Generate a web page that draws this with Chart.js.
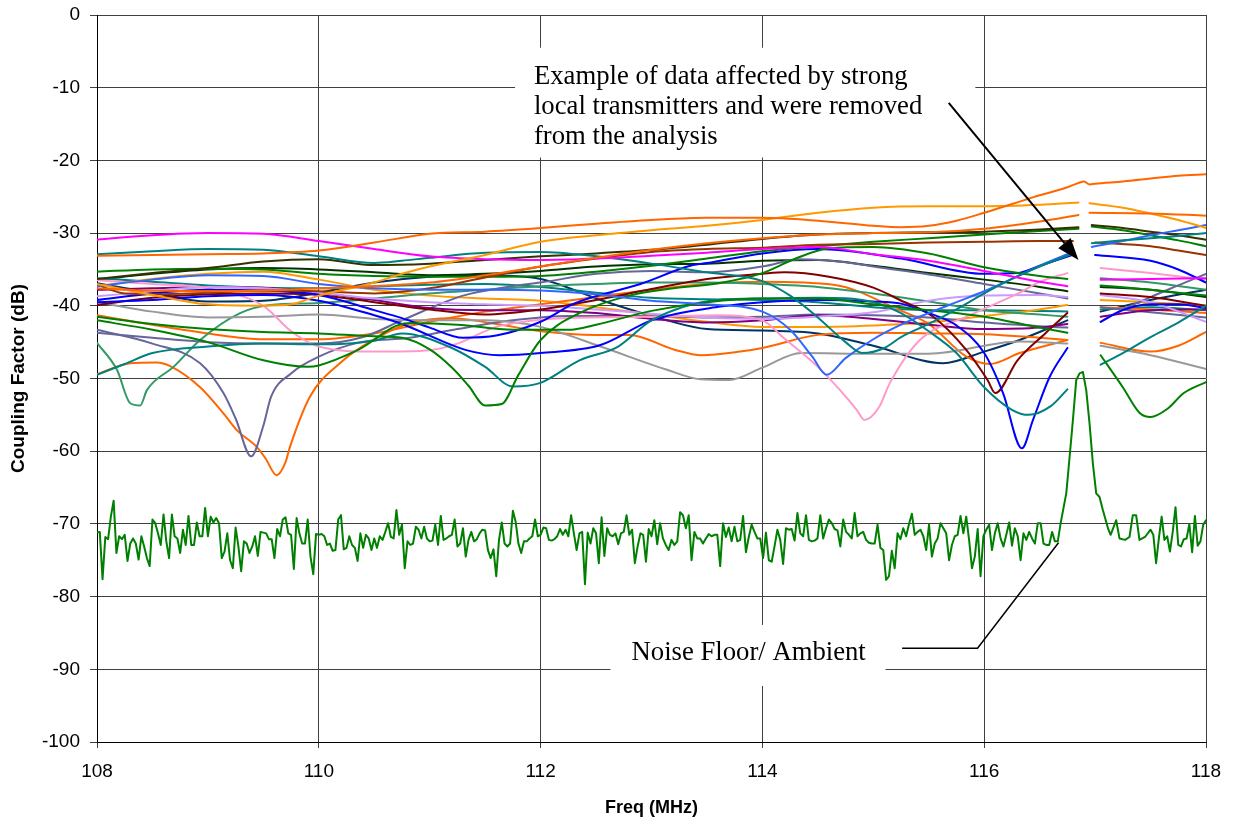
<!DOCTYPE html>
<html lang="en">
<head>
<meta charset="UTF-8">
<title>Coupling Factor vs Freq</title>
<script src="https://cdn.jsdelivr.net/npm/chart.js@4.4.1/dist/chart.umd.min.js"></script>
<style>
  html, body { margin: 0; padding: 0; background: #fff; }
</style>
</head>
<body>
<canvas id="chart" width="1234" height="823"></canvas>
<script>
// x ticks (MHz) and y range (dB)
const freqTicks = [108, 110, 112, 114, 116, 118];
const dbMin = -100, dbMax = 0, dbStep = 10;

// each curve: [freq MHz, coupling dB]; null = data removed near 116.9 MHz
const GAP = [116.9, null];
const magenta = [[108,-30.9],[108.5,-30.3],[109,-30.0],[109.5,-30.1],[110,-31.1],[110.5,-32.2],[111,-33.2],[111.5,-33.6],[112,-33.7],[112.5,-33.5],[113,-33.1],[113.5,-32.7],[114,-32.2],[114.5,-31.9],[115,-32.9],[115.5,-33.8],[116,-35.2],[116.5,-36.7],[116.75,-37.3],GAP,[117.05,-36.4],[117.5,-36.3],[118,-36.2]];
const teal1 = [[108,-32.9],[108.5,-32.5],[109,-32.2],[109.5,-32.3],[110,-33.2],[110.5,-34.1],[110.75,-33.8],[111,-33.4],[111.5,-32.7],[112,-32.6],[112.5,-33.2],[113,-34.2],[113.5,-35.4],[114,-36.6],[114.25,-38.6],[114.5,-41.6],[114.75,-45],[114.9,-46.5],[115.1,-45.8],[115.25,-44.3],[115.5,-42.5],[115.75,-40.5],[116,-38.3],[116.25,-36.3],[116.5,-34.6],[116.8,-32.8],GAP,[116.97,-31.4],[117.25,-31],[117.5,-30.7],[117.75,-30.4],[118,-30]];
const blueLight = [[108,-37.3],[108.5,-36.4],[109,-35.8],[109.5,-35.9],[110,-37],[110.5,-37.6],[111,-37.8],[111.5,-37.8],[112,-37.9],[112.5,-38.4],[113,-39.3],[113.5,-39.8],[114,-40.8],[114.25,-43.3],[114.45,-47],[114.58,-49.5],[114.75,-47.2],[115,-44.6],[115.25,-42.6],[115.5,-41],[115.75,-39.5],[116,-38],[116.25,-36.3],[116.5,-34.5],[116.8,-32.6],GAP,[116.97,-31.9],[117.25,-31.1],[117.5,-30.3],[117.75,-29.6],[118,-28.9]];
const amber1 = [[108,-37],[108.5,-38.5],[109,-39.8],[109.5,-40],[109.75,-39.8],[110,-38.6],[110.5,-36.8],[110.75,-35.6],[111,-34.6],[111.5,-33],[112,-31.2],[112.5,-30.3],[113,-29.6],[113.5,-29],[114,-28.2],[114.5,-27.2],[115,-26.5],[115.5,-26.3],[116,-26.3],[116.5,-26.1],[116.85,-25.8],GAP,[116.95,-25.9],[117.25,-26.5],[117.5,-27.3],[117.75,-28.2],[118,-29.3]];
const orangeTop = [[108,-33.1],[108.5,-33],[109,-32.9],[109.5,-32.8],[110,-32.4],[110.5,-31.3],[111,-30.1],[111.5,-29.8],[112,-29.3],[112.5,-28.7],[113,-28.2],[113.5,-27.9],[114,-27.9],[114.5,-28.3],[115,-29],[115.25,-29.2],[115.5,-29],[115.75,-28.3],[116,-27.2],[116.25,-26],[116.5,-24.8],[116.75,-23.7],[116.85,-23.1],[116.9,-22.9],[116.95,-23.3],[117,-23.2],[117.25,-22.9],[117.5,-22.5],[117.75,-22.1],[118,-21.9]];
const orange2 = [[108,-37.6],[108.5,-37.9],[109,-38],[109.5,-37.9],[110,-37.6],[110.5,-37.3],[111,-36.8],[111.5,-35.8],[112,-34.6],[112.5,-33.4],[113,-32.3],[113.5,-31.4],[114,-30.7],[114.5,-30.2],[115,-30],[115.5,-29.9],[116,-29.4],[116.5,-28.4],[116.85,-27.5],GAP,[116.95,-27.2],[117.5,-27.3],[118,-27.6]];
const olive = [[108,-36.3],[108.5,-35.5],[109,-34.8],[109.5,-33.9],[110,-33.6],[110.5,-34.4],[111,-34.2],[111.5,-33.7],[112,-33.2],[112.5,-32.8],[113,-32.3],[113.5,-31.6],[114,-30.8],[114.5,-30.2],[115,-30],[115.5,-29.9],[116,-29.8],[116.5,-29.5],[116.85,-29.2],GAP,[116.97,-28.9],[117.25,-29.3],[117.5,-29.8],[117.75,-30.3],[118,-30.9]];
const brown = [[108,-37.1],[108.25,-38.3],[108.5,-38.4],[109,-38.2],[109.5,-37.9],[110,-38],[110.5,-38.3],[111,-37.6],[111.5,-36.1],[112,-34.6],[112.5,-33.5],[113,-32.6],[113.5,-32.2],[114,-32],[114.5,-31.6],[115,-31.5],[115.5,-31.3],[116,-31.2],[116.5,-31.1],[116.8,-31.1],GAP,[117,-31.3],[117.5,-31.8],[117.75,-32.4],[118,-33]];
const greenTop = [[108,-35.3],[108.5,-35],[109,-34.9],[109.5,-35],[110,-35.6],[110.5,-35.9],[111,-36],[111.5,-36],[112,-35.9],[112.5,-35.3],[113,-34.5],[113.5,-33.5],[114,-32.5],[114.5,-31.8],[115,-31.2],[115.5,-30.7],[116,-30.2],[116.5,-29.7],[116.85,-29.4],GAP,[116.97,-29.1],[117.25,-29.6],[117.5,-30.3],[117.75,-31],[118,-31.8]];
const greenDip1 = [[108,-41.5],[108.5,-42.5],[109,-43.2],[109.5,-43.6],[110,-43.8],[110.5,-44.2],[110.75,-44.4],[111,-46],[111.2,-48.5],[111.35,-51],[111.5,-53.7],[111.65,-53.5],[111.8,-49.5],[112,-44.7],[112.35,-41],[112.8,-38.6],[113.2,-37.6],[113.6,-36.9],[114,-35.5],[114.3,-33.5],[114.6,-32.1],[115,-31.9],[115.5,-32.8],[116,-34.7],[116.5,-35.9],[116.75,-36.3],GAP,[117.05,-37.2],[117.5,-37.8],[118,-38.6]];
const greenDip2 = [[108,-42],[108.5,-43.3],[109,-45],[109.5,-47.5],[109.9,-48.4],[110,-48.2],[110.35,-46.1],[110.8,-42.4],[111.25,-42.6],[111.75,-43.3],[112.25,-43.3],[112.5,-42.6],[113,-40.7],[113.5,-39.5],[114,-39],[114.5,-39],[115,-39.8],[115.5,-40.6],[116,-41.5],[116.5,-43],[116.75,-43.7],GAP,[117.05,-46.8],[117.25,-51.2],[117.4,-54.7],[117.5,-55.3],[117.65,-54.2],[117.8,-52],[118,-50.5]];
const teal2 = [[108,-49.5],[108.25,-48],[108.5,-46.5],[109,-45.6],[109.5,-45.2],[110,-45.3],[110.5,-44.8],[110.75,-43.8],[111.2,-45.8],[111.5,-48.4],[111.75,-51.1],[112,-50.6],[112.35,-47.5],[112.7,-45.6],[113,-42],[113.6,-39.2],[114,-39],[114.5,-38.9],[115,-39.5],[115.25,-41],[115.5,-43.5],[115.75,-46.5],[116,-51.2],[116.25,-54.3],[116.4,-55],[116.6,-53.8],[116.75,-51.5],GAP,[117.05,-48.1],[117.25,-46.5],[117.5,-44.3],[117.75,-42.3],[118,-40]];
const blue1 = [[108,-39.2],[108.5,-38.3],[109,-37.8],[109.5,-37.9],[110,-38.5],[110.5,-40.6],[110.75,-41.7],[111,-43],[111.3,-44.4],[111.6,-44.1],[112,-42.2],[112.3,-39.7],[112.9,-37],[113.35,-34.5],[113.55,-34],[114,-32.8],[114.5,-32.2],[115.25,-33.5],[116,-35.6],[116.3,-35.5],[116.5,-34.5],[116.8,-33],GAP,[117,-33],[117.5,-33.8],[117.75,-35],[118,-36.8]];
const blue2 = [[108,-39.5],[108.5,-39.2],[109,-38.7],[109.5,-38.5],[110,-39.3],[110.5,-41.3],[110.75,-42.5],[111.33,-46.1],[111.63,-46.8],[112,-46.5],[112.54,-45.4],[113,-42],[113.62,-40.1],[114,-39.5],[114.5,-39.2],[115,-39.4],[115.25,-39.7],[115.5,-41],[115.75,-42.7],[116,-46.5],[116.17,-52],[116.34,-59.6],[116.44,-55.7],[116.59,-49.8],[116.75,-45.8],GAP,[117.05,-42.2],[117.25,-40.6],[117.5,-39.8],[117.75,-39.8],[118,-40.3]];
const maroon = [[108,-39.9],[108.5,-38.9],[109,-38.4],[109.5,-38.3],[110,-38.5],[110.5,-39.5],[111,-40.5],[111.5,-41.2],[112,-40.5],[112.5,-39.2],[113,-37.7],[113.5,-36.3],[114,-35.6],[114.2,-35.4],[114.6,-36],[115,-37.5],[115.24,-39.2],[115.54,-41.5],[115.84,-46.1],[116.03,-50.2],[116.1,-52],[116.3,-47.5],[116.55,-43.8],[116.75,-41],GAP,[117.05,-38.3],[117.5,-38.8],[118,-40]];
const pink = [[108,-36.5],[108.5,-37],[109,-37.6],[109.5,-40],[109.75,-43.5],[110,-45.6],[110.5,-46.3],[111,-46.1],[111.25,-45.2],[111.6,-42.9],[112.2,-41.7],[113,-41.5],[113.6,-41.3],[114,-42],[114.19,-44.4],[114.5,-48.4],[114.7,-51.6],[114.85,-54.3],[114.92,-55.7],[115.05,-54],[115.15,-50.6],[115.42,-44.7],[115.84,-41.5],[116.32,-38.2],[116.5,-36.7],[116.75,-35.5],GAP,[117.05,-34.8],[117.5,-35.5],[118,-36.4]];
const gray = [[108,-39.5],[108.5,-40.8],[109,-41.6],[109.5,-41.5],[110,-41.2],[110.5,-41.8],[111,-42],[111.5,-42],[112,-42.9],[112.54,-45.6],[113.14,-48.8],[113.44,-50.1],[113.7,-50.2],[114,-48.5],[114.35,-46.5],[115,-46.6],[115.5,-46.6],[116.32,-44.9],[116.75,-45.2],GAP,[117.05,-45.5],[117.5,-46.8],[118,-48.7]];
const lavender = [[108,-38.7],[108.5,-38],[109,-37.4],[109.5,-37.6],[110,-38.2],[110.5,-39],[111,-39.5],[111.5,-39.8],[112,-40],[112.5,-40.5],[113,-41.1],[113.5,-41.6],[114,-41.8],[114.5,-41.5],[115,-40.9],[115.5,-39.3],[116,-38.6],[116.5,-38.5],[116.75,-38.8],GAP,[117.05,-38.5],[117.5,-39.5],[118,-42.2]];
const purple = [[108,-37.8],[108.5,-37.6],[109,-37.4],[109.5,-37.5],[110,-38.2],[110.5,-39.2],[111,-40.3],[111.5,-40.6],[112,-40.6],[112.5,-41],[113,-41.8],[113.5,-42.3],[114,-42],[114.5,-41.3],[115,-41.8],[115.5,-42.6],[116,-43.2],[116.5,-43],[116.75,-42.5],GAP,[117.05,-41.5],[117.5,-40.6],[118,-40.5]];
const slate1 = [[108,-43.3],[108.5,-45.2],[108.93,-47.9],[109.14,-52],[109.25,-55.5],[109.39,-60.7],[109.5,-56.5],[109.57,-52.5],[109.75,-49.3],[110,-47],[110.35,-45.1],[110.82,-44.4],[111.25,-43.2],[111.75,-42],[112.25,-41.4],[113,-41.4],[113.5,-41.6],[114,-41.5],[114.5,-41.2],[115,-41.3],[115.5,-41.6],[116,-42.3],[116.5,-42.8],[116.75,-43],GAP,[117.05,-42.2],[117.25,-40.5],[117.5,-38.8],[117.75,-37.2],[118,-35.6]];
const slate2 = [[108,-43.7],[108.5,-44.4],[109,-45],[109.5,-45.2],[110,-45.2],[110.4,-44.3],[110.75,-42],[111.3,-38.6],[111.7,-37.4],[112,-36.8],[112.5,-35.6],[113,-35.2],[113.5,-35.4],[114,-34.6],[114.34,-33.6],[114.75,-34],[115,-34.6],[115.5,-35.7],[116,-37],[116.5,-38.3],[116.75,-39],GAP,[117.05,-40.2],[117.5,-40.9],[118,-41.6]];
const seaGreen = [[108,-45.1],[108.18,-48.8],[108.3,-53.4],[108.39,-53.7],[108.45,-51.6],[108.69,-48.4],[108.93,-44.7],[109.29,-41],[109.56,-39.9],[110,-39.6],[110.5,-39],[111,-38.3],[111.5,-37.8],[112,-37.3],[112.5,-37],[113,-36.8],[113.5,-36.8],[114,-37],[114.5,-37.4],[115,-38.3],[115.5,-39.4],[116,-40.6],[116.5,-41.2],[116.75,-41.5],GAP,[117.05,-36.2],[117.5,-36.8],[118,-37.8]];
const orangeDip = [[108,-49.4],[108.3,-47.9],[108.54,-47.8],[108.66,-48.3],[108.93,-51.2],[109.14,-54.8],[109.26,-57.1],[109.44,-59.4],[109.52,-61],[109.62,-63.3],[109.7,-61.5],[109.74,-59.4],[109.92,-52.5],[110.19,-47.9],[110.49,-44.7],[110.82,-42.4],[111.2,-41.7],[111.6,-42.5],[112,-43.5],[112.5,-44],[112.8,-44],[113.2,-46],[113.45,-46.8],[113.8,-46.3],[114,-45.8],[114.5,-44],[115,-43.7],[115.5,-43.8],[116,-43.9],[116.5,-44.4],[116.75,-44.7],GAP,[117.05,-45.1],[117.5,-46.3],[117.75,-45.5],[118,-43.6]];
const orange4 = [[108,-41.3],[108.5,-42.6],[109,-43.8],[109.5,-44.6],[110,-44.6],[110.5,-43.8],[111,-42.2],[111.5,-40.8],[112,-39.8],[112.5,-38.8],[113,-37.8],[113.5,-37],[114,-36.7],[114.64,-37.1],[115.24,-40.6],[115.5,-42.5],[115.84,-47],[116.05,-48],[116.32,-46.5],[116.75,-44.7],GAP,[117.05,-40.2],[117.5,-40.5],[118,-41]];
const amber2 = [[108,-37.3],[108.5,-36.3],[109,-35.6],[109.5,-35.3],[110,-36.4],[110.5,-37.8],[111,-38.6],[111.5,-39],[112,-39.3],[112.5,-40.2],[113,-41.2],[113.5,-42.2],[114,-42.9],[114.5,-42.9],[115,-42.7],[115.5,-42.3],[116,-41.4],[116.5,-40.5],[116.75,-39.9],GAP,[117.05,-39.2],[117.5,-39.5],[118,-40]];
const teal3 = [[108,-36.2],[108.5,-36.7],[109,-37.2],[109.5,-37.5],[110,-37.6],[110.5,-37.3],[111,-37.1],[111.5,-37],[112,-37.4],[112.5,-38.2],[113,-38.9],[113.5,-39.1],[114,-39.2],[114.5,-39.5],[115,-40.2],[115.5,-40.6],[116,-40.6],[116.5,-40.7],[116.75,-40.8],GAP,[117.05,-40.5],[117.5,-40.2],[118,-40.6]];
const darkGreen = [[108,-36.4],[108.5,-35.6],[109,-35],[109.5,-34.8],[110,-35],[110.5,-35.4],[111,-35.8],[111.5,-35.6],[112,-35.2],[112.5,-34.6],[113,-34.3],[113.5,-34.2],[114,-33.8],[114.5,-33.7],[115,-34.5],[115.5,-35.5],[116,-36.4],[116.5,-37.4],[116.75,-38],GAP,[117.05,-37.4],[117.5,-37.8],[118,-38.8]];
const navy = [[108,-36.9],[108.5,-38.2],[109,-39.4],[109.5,-39.3],[110,-38.2],[110.5,-36.8],[111,-36],[111.5,-35.8],[112,-36.3],[112.54,-39.2],[113.14,-42],[113.5,-43.2],[114,-43.4],[114.5,-43.8],[115,-45.5],[115.63,-47.9],[116,-46.3],[116.32,-44.7],[116.75,-42],GAP,[117.05,-40.8],[117.5,-39.2],[118,-37.8]];

// noise floor / ambient: evenly spaced runs plus the transmitter peak
const noiseA = [-71.2,-71.1,-77.6,-71.8,-72.1,-69.0,-66.8,-74.0,-71.7,-72.1,-71.5,-75.1,-72.7,-72.0,-72.7,-74.9,-71.7,-73.1,-74.7,-75.8,
  -69.4,-69.9,-71.3,-72.9,-68.7,-72.4,-74.7,-68.7,-71.7,-72.0,-74.0,-70.8,-72.9,-68.9,-72.9,-72.9,-69.8,-71.7,-71.7,-67.8,
  -71.7,-69.0,-69.8,-69.2,-69.9,-74.7,-73.8,-71.3,-75.0,-76.1,-70.5,-73.1,-76.5,-72.4,-72.7,-74.0,-73.1,-71.7,-74.4,-71.1,
  -71.2,-71.3,-72.1,-72.1,-74.7,-70.7,-71.7,-69.4,-69.1,-71.3,-71.5,-76.2,-69.2,-71.3,-72.7,-72.7,-69.4,-74.5,-76.9,-71.4,
  -71.5,-71.4,-71.7,-72.9,-72.7,-73.7,-73.6,-69.4,-68.8,-73.5,-73.3,-71.7,-72.9,-73.3,-75.1,-71.3,-73.3,-71.5,-72.0,-73.6,
  -72.0,-73.3,-71.7,-72.2,-71.1,-69.9,-71.8,-72.0,-68.1,-71.5,-70.1,-76.1,-72.4,-72.9,-72.7,-70.4,-70.8,-72.0,-70.4,-72.0,
  -72.4,-72.3,-70.1,-72.9,-68.9,-72.2,-72.0,-71.7,-71.5,-69.4,-73.1,-72.7,-70.6,-74.5,-72.2,-71.1,-72.4,-72.1,-71.3,-70.8,
  -70.9,-73.6,-74.7,-73.5,-77.2,-72.2,-69.8,-72.7,-73.1,-72.7,-68.2,-69.7,-72.7,-74.0,-72.4,-72.4,-72.0,-71.7,-69.4,-71.7,
  -71.5,-70.5,-70.6,-72.2,-72.3,-72.1,-71.7,-70.7,-71.5,-70.8,-71.7,-68.8,-71.3,-73.6,-71.3,-71.1,-78.3,-71.2,-72.7,-70.6,
  -71.3,-75.4,-69.1,-74.4,-70.6,-71.5,-71.7,-71.3,-72.8,-71.3,-71.1,-68.8,-71.5,-70.8,-75.4,-73.1,-71.3,-71.5,-75.2,-70.7];
const noiseB = [-71.7,-69.5,-72.8,-69.9,-72.0,-72.9,-73.6,-72.2,-72.9,-72.4,-68.4,-68.8,-70.6,-68.8,-75.0,-71.1,-72.0,-72.0,-72.7,-72.0,
  -71.4,-71.7,-71.5,-71.5,-75.8,-69.9,-71.8,-70.5,-72.4,-70.4,-72.4,-72.2,-68.9,-73.9,-71.8,-70.1,-71.1,-72.0,-72.0,-74.7,
  -71.2,-75.0,-75.2,-73.1,-70.8,-72.2,-75.5,-70.6,-70.8,-70.7,-72.3,-68.5,-71.3,-71.7,-68.8,-72.2,-72.4,-72.3,-72.0,-68.8,
  -72.0,-70.6,-69.4,-69.9,-70.7,-70.9,-73.1,-69.4,-71.1,-71.5,-72.0,-68.5,-71.7,-71.3,-71.1,-72.2,-72.6,-72.7,-72.7,-70.1,
  -73.3,-73.6,-77.7,-77.2,-73.7,-76.1,-71.3,-72.1,-70.6,-71.7,-70.0,-68.6,-71.5,-71.1,-70.8,-71.7,-73.6,-70.1,-74.5,-72.7,
  -72.0,-69.9,-70.6,-71.3,-75.0,-72.9,-71.7,-71.5,-68.9,-71.3,-69.0,-72.2,-76.1,-74.5,-70.7,-77.2,-71.7,-70.8,-70.1,-73.6,
  -71.3,-69.9,-72.0,-73.1,-71.5,-69.8,-73.0,-70.6,-71.7,-75.0,-71.3,-72.2,-71.1,-72.0,-72.7,-69.9,-69.9,-72.7,-72.9,-72.9,
  -71.1,-72.4,-72.4,-69.9];
const noisePeak = [[116.74,-65.8],[116.77,-60.8],[116.80,-55.7],[116.83,-50.2],[116.86,-49.3],[116.89,-49.1],[116.92,-51.6],[116.95,-56.2],[116.98,-61.7],[117.01,-65.8],[117.04,-66.3],[117.07,-68.1],[117.12,-70.8],[117.14,-71.5],[117.19,-69.5],[117.22,-72.0],[117.27,-72.2],[117.31,-71.8],[117.34,-68.8],[117.37,-68.8],[117.40,-72.2],[117.45,-71.8]];
const noiseC = [-70.8,-71.5,-75.4,-72.0,-69.0,-72.2,-71.7,-73.8,-71.1,-67.7,-72.9,-73.1,-72.1,-72.0,-70.0,-73.9,-68.9,-73.0,-72.4,-70.1,-69.5];

// annotation anchors in data units [f0, f1, dB top, dB bottom]
const noteBox = [111.77, 115.92, -4.5, -19.6];
const noteLines = ['Example of data affected by strong', 'local transmitters and were removed', 'from the analysis'];
const noteAt = [111.94, -9.5, -4.1];       // x, first baseline, line step (dB)
const arrowFrom = [115.68, -12.1], arrowTo = [116.85, -33.7];
const noiseBox = [112.63, 115.11, -83.9, -92.3];
const noiseText = ['Noise Floor/ Ambient', 112.82, -88.7];
const callout = [[115.26, -87.1], [115.94, -87.1], [116.67, -72.6]];

const curves = [
  [orangeTop, '#FF6600'], [orange2, '#FF6600'], [amber1, '#FF9900'], [magenta, '#FF00FF'],
  [teal1, '#008080'], [blueLight, '#3366FF'], [olive, '#333300'], [brown, '#993300'],
  [greenTop, '#008000'], [greenDip1, '#008000'], [greenDip2, '#008000'], [teal2, '#008080'],
  [blue1, '#0000FF'], [blue2, '#0000FF'], [maroon, '#800000'], [pink, '#FF99CC'],
  [gray, '#999999'], [lavender, '#CC99FF'], [purple, '#800080'], [slate1, '#666699'],
  [slate2, '#666699'], [seaGreen, '#339966'], [orangeDip, '#FF6600'], [orange4, '#FF6600'],
  [amber2, '#FF9900'], [teal3, '#008080'], [darkGreen, '#003300'], [navy, '#003366']
];

const toPts = arr => arr.map(([f, v]) => ({ x: f, y: v }));

const noisePts = [];
noiseA.forEach((v, i) => noisePts.push({ x: 108 + i * 0.025, y: v }));
noiseB.forEach((v, i) => noisePts.push({ x: 113 + i * 0.0258, y: v }));
noisePeak.forEach(([f, v]) => noisePts.push({ x: f, y: v }));
noiseC.forEach((v, i) => noisePts.push({ x: 117.5 + i * 0.025, y: v }));

const datasets = [{
  data: noisePts, borderColor: '#008000', borderWidth: 2, tension: 0
}].concat(curves.map(([pts, col]) => ({
  data: toPts(pts), borderColor: col, borderWidth: 2, cubicInterpolationMode: 'monotone'
})));

// white label boxes, texts, arrow and callout line
const notes = {
  id: 'notes',
  beforeDatasetsDraw(chart) {
    const { ctx, scales: { x, y } } = chart;
    ctx.save();
    ctx.fillStyle = '#fff';
    [noteBox, noiseBox].forEach(b => {
      const x0 = x.getPixelForValue(b[0]), x1 = x.getPixelForValue(b[1]);
      const y0 = y.getPixelForValue(b[2]), y1 = y.getPixelForValue(b[3]);
      ctx.fillRect(x0, y0, x1 - x0, y1 - y0);
    });
    ctx.restore();
  },
  afterDatasetsDraw(chart) {
    const { ctx, scales: { x, y } } = chart;
    const px = f => x.getPixelForValue(f), py = v => y.getPixelForValue(v);
    ctx.save();
    ctx.fillStyle = '#000';
    ctx.strokeStyle = '#000';
    ctx.font = '26.7px "Liberation Serif", "Times New Roman", serif';
    ctx.textBaseline = 'alphabetic';
    ctx.textAlign = 'left';
    noteLines.forEach((t, i) => ctx.fillText(t, px(noteAt[0]), py(noteAt[1] + i * noteAt[2])));
    ctx.fillText(noiseText[0], px(noiseText[1]), py(noiseText[2]));

    // arrow
    const ax = px(arrowFrom[0]), ay = py(arrowFrom[1]);
    const bx = px(arrowTo[0]), by = py(arrowTo[1]);
    const ang = Math.atan2(by - ay, bx - ax);
    const hl = 22, hw = 8;
    const baseX = bx - hl * Math.cos(ang), baseY = by - hl * Math.sin(ang);
    ctx.lineWidth = 2;
    ctx.beginPath();
    ctx.moveTo(ax, ay);
    ctx.lineTo(baseX, baseY);
    ctx.stroke();
    ctx.beginPath();
    ctx.moveTo(bx, by);
    ctx.lineTo(baseX + hw * Math.sin(ang), baseY - hw * Math.cos(ang));
    ctx.lineTo(baseX - hw * Math.sin(ang), baseY + hw * Math.cos(ang));
    ctx.closePath();
    ctx.fill();

    // callout to the noise floor
    ctx.lineWidth = 1.5;
    ctx.beginPath();
    callout.forEach(([f, v], i) => i ? ctx.lineTo(px(f), py(v)) : ctx.moveTo(px(f), py(v)));
    ctx.stroke();
    ctx.restore();
  }
};

const tickFont = { family: '"Liberation Sans", Arial, sans-serif', size: 19 };
const xTitleFont = { family: '"Liberation Sans", Arial, sans-serif', size: 18, weight: 'bold' };
const yTitleFont = { family: '"Liberation Sans", Arial, sans-serif', size: 19, weight: 'bold' };

new Chart(document.getElementById('chart'), {
  type: 'line',
  data: { datasets },
  options: {
    responsive: false,
    animation: false,
    events: [],
    spanGaps: false,
    elements: { point: { radius: 0 }, line: { borderCapStyle: 'round', borderJoinStyle: 'round' } },
    layout: { padding: { left: 0, right: 28, top: 15, bottom: 0 } },
    plugins: { legend: { display: false }, tooltip: { enabled: false } },
    scales: {
      x: {
        type: 'linear', min: 108, max: 118,
        afterBuildTicks: s => { s.ticks = freqTicks.map(v => ({ value: v })); },
        afterFit: s => { s.height = 81; },
        ticks: { font: tickFont, color: '#000', padding: 12, maxRotation: 0 },
        grid: { color: '#404040', lineWidth: 1, tickLength: 6 },
        border: { color: '#000', width: 1 },
        title: { display: true, text: 'Freq (MHz)', font: xTitleFont, color: '#000', padding: { top: 0, bottom: 4 } }
      },
      y: {
        min: dbMin, max: dbMax,
        ticks: { stepSize: dbStep, font: tickFont, color: '#000', padding: 10 },
        afterFit: s => { s.width = 97; s.paddingTop = 0; s.paddingBottom = 0; },
        grid: { color: '#404040', lineWidth: 1, tickLength: 7 },
        border: { color: '#000', width: 1 },
        title: { display: true, text: 'Coupling Factor (dB)', font: yTitleFont, color: '#000', padding: { top: 7, bottom: 0 } }
      }
    }
  },
  plugins: [notes]
});
</script>
</body>
</html>
